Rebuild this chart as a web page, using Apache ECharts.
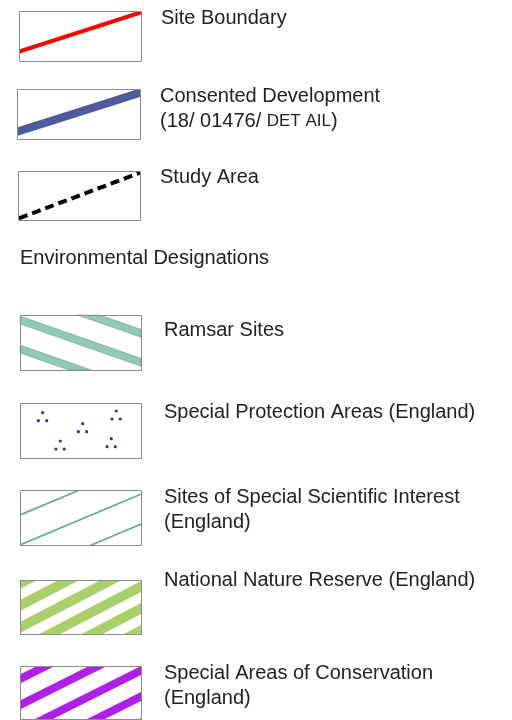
<!DOCTYPE html>
<html><head><meta charset="utf-8">
<script src="https://cdn.jsdelivr.net/npm/echarts@6/dist/echarts.min.js"></script>
<style>html,body{margin:0;padding:0;background:#fff}#c{width:512px;height:720px}</style>
</head><body><div id="c"></div>
<script>
// ---- content ----
const lineItems = ['Site Boundary', 'Consented Development\n(18/ 01476/ DET AIL)', 'Study Area'];
const sectionTitle = 'Environmental Designations';
const designationItems = [
  'Ramsar Sites',
  'Special Protection Areas (England)',
  'Sites of Special Scientific Interest\n(England)',
  'National Nature Reserve (England)',
  'Special Areas of Conservation\n(England)'
];

// ---- layout / style ----
const FONT = '"Liberation Sans", Arial, sans-serif';
const TEXT_COLOR = '#222222';
const BORDER = '#8c8c8c';
const lineBoxes = [[19, 11, 122, 50], [17, 89, 123, 50], [18, 171, 122, 49]];
const lineLabelPos = [[161, 18], [160, 96], [160, 177]];
const lineSwatch = [
  { kind: 'band', color: '#ff0000', y0: 40.7, y1: 1.3, thick: 4.2 },
  { kind: 'band', color: '#4e5a9b', y0: 42.7, y1: 3.7, thick: 8.4 },
  { kind: 'dash', color: '#000000', y0: 47.3, y1: 1.7, width: 4, dash: [9, 5] }
];
const titlePos = [20, 258];
const desBoxes = [[20, 315, 121, 55], [20, 403, 121, 55], [20, 490, 121, 55], [20, 580, 121, 54], [20, 666, 121, 53]];
const desLabelPos = [[164, 330], [164, 412], [164, 497], [164, 580], [164, 673]];
const desSwatch = [
  { kind: 'stripes', color: '#8fcbb4', slope: 0.35, period: 29, thick: 8, offset: 1, edge: 'rgba(80,100,95,0.55)' },
  { kind: 'dots', color: '#2b3990', r: 1.6, clusters: [[22.7, 9.7], [62.7, 20.7], [96.3, 8], [40.3, 38], [91.3, 35.7]], tri: [[0, 0], [-4.3, 8], [4, 8]] },
  { kind: 'stripes', color: '#5dae8e', slope: -0.42, period: 30, thick: 1.8, offset: 24.1 },
  { kind: 'stripes', color: '#a9d06a', slope: -0.52, period: 22, thick: 11, offset: 20 },
  { kind: 'stripes', color: '#b01fe8', slope: -0.5, period: 26, thick: 9, offset: 8.5 }
];

// ---- helpers ----
function clipPoly(poly, x0, y0, x1, y1) {
  const edges = [
    [p => p[0] >= x0, (a, b) => { const t = (x0 - a[0]) / (b[0] - a[0]); return [x0, a[1] + t * (b[1] - a[1])]; }],
    [p => p[0] <= x1, (a, b) => { const t = (x1 - a[0]) / (b[0] - a[0]); return [x1, a[1] + t * (b[1] - a[1])]; }],
    [p => p[1] >= y0, (a, b) => { const t = (y0 - a[1]) / (b[1] - a[1]); return [a[0] + t * (b[0] - a[0]), y0]; }],
    [p => p[1] <= y1, (a, b) => { const t = (y1 - a[1]) / (b[1] - a[1]); return [a[0] + t * (b[0] - a[0]), y1]; }]
  ];
  let out = poly;
  for (const [inside, inter] of edges) {
    const input = out; out = [];
    if (!input.length) break;
    for (let i = 0; i < input.length; i++) {
      const cur = input[i], prev = input[(i + input.length - 1) % input.length];
      const ci = inside(cur), pi = inside(prev);
      if (ci) { if (!pi) out.push(inter(prev, cur)); out.push(cur); }
      else if (pi) out.push(inter(prev, cur));
    }
  }
  return out;
}
function band(box, yLeft, yRight, thick, style) {
  const [x, y, w, h] = box;
  const pts = clipPoly([[x, yLeft - thick / 2], [x + w, yRight - thick / 2], [x + w, yRight + thick / 2], [x, yLeft + thick / 2]], x, y, x + w, y + h);
  return pts.length >= 3 ? { type: 'polygon', silent: true, shape: { points: pts }, style: style } : null;
}
function stripes(box, s) {
  const [x, y, w, h] = box;
  const els = [];
  for (let k = -12; k <= 12; k++) {
    const top = y + s.offset + k * s.period;
    const mid = top + s.thick / 2;
    const el = band(box, mid, mid + s.slope * w, s.thick, { fill: s.color, stroke: s.edge || null, lineWidth: s.edge ? 0.6 : 0 });
    if (el) els.push(el);
  }
  return els;
}
function border(box) {
  const [x, y, w, h] = box;
  return { type: 'rect', silent: true, z: 10, shape: { x: x + 0.5, y: y + 0.5, width: w, height: h }, style: { fill: null, stroke: BORDER, lineWidth: 1 } };
}
function label(text, pos) {
  const rich = { s: { fontSize: 17, fontFamily: FONT, fill: TEXT_COLOR, lineHeight: 25 } };
  return {
    type: 'text', silent: true, z: 10,
    style: {
      x: pos[0], y: pos[1] - 12.5, text: text.replace('DET AIL', '{s|DET AIL}'),
      fontSize: 20, fontFamily: FONT, fill: TEXT_COLOR, lineHeight: 25,
      verticalAlign: 'top', align: 'left', rich: rich
    }
  };
}

const elements = [];
lineItems.forEach((name, i) => {
  const box = lineBoxes[i], sw = lineSwatch[i];
  const [x, y, w] = box;
  if (sw.kind === 'band') {
    const el = band(box, y + sw.y0, y + sw.y1, sw.thick, { fill: sw.color });
    if (el) elements.push(el);
  } else {
    elements.push({ type: 'line', silent: true, shape: { x1: x + 1, y1: y + sw.y0, x2: x + w, y2: y + sw.y1 }, style: { stroke: sw.color, lineWidth: sw.width, lineDash: sw.dash, lineCap: 'butt' } });
  }
  elements.push(border(box));
  elements.push(label(name, lineLabelPos[i]));
});
elements.push(label(sectionTitle, titlePos));
designationItems.forEach((name, i) => {
  const box = desBoxes[i], sw = desSwatch[i];
  if (sw.kind === 'stripes') {
    elements.push(...stripes(box, sw));
  } else if (sw.kind === 'dots') {
    sw.clusters.forEach(c => sw.tri.forEach(t => {
      elements.push({ type: 'circle', silent: true, shape: { cx: box[0] + c[0] + t[0], cy: box[1] + c[1] + t[1], r: sw.r }, style: { fill: sw.color } });
    }));
  }
  elements.push(border(box));
  elements.push(label(name, desLabelPos[i]));
});

const chart = echarts.init(document.getElementById('c'));
chart.setOption({ animation: false, backgroundColor: '#ffffff', graphic: { elements: elements } });
</script>
</body></html>
